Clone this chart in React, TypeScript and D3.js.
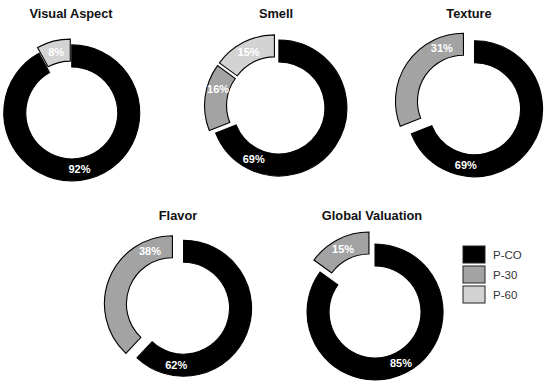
import * as d3 from "d3";

// attribute scores (% of panel preferring each sample)
const attributes = ["Visual Aspect", "Smell", "Texture", "Flavor", "Global Valuation"];
const samples = ["P-CO", "P-30", "P-60"];
const pCO = [92, 69, 69, 62, 85];
const p30 = [0, 16, 31, 38, 15];
const p60 = [8, 15, 0, 0, 0];

const colors = ["#000000", "#a3a3a3", "#d3d3d3"];

// layout of each donut: center, explosion and where along the slice the label sits
const centers: [number, number][] = [[71, 110], [276, 106], [469, 105], [178, 306], [372, 306]];
const explode = [3, 3.5, 6.7, 6, 6.7];
const labelAt = [[0.52, 0.5, 0.5], [0.83, 0.67, 0.5], [0.76, 0.8, 0.5], [0.84, 0.83, 0.5], [0.5, 0.5, 0.5]];

const outerR = 68;
const innerR = 46;

function Donut({ idx }: { idx: number }) {
  const values = [pCO[idx], p30[idx], p60[idx]];
  const [cx, cy] = centers[idx];
  const d = explode[idx];
  const pie = d3.pie<number>().sort(null).value(v => v)(values);
  const arc = d3.arc<d3.PieArcDatum<number>>().innerRadius(innerR).outerRadius(outerR);
  const top = idx < 3 ? 18 : 220;
  return (
    <g>
      <text x={cx} y={top} textAnchor="middle" fontWeight="bold" fontSize={12.8} fill="#111">
        {attributes[idx]}
      </text>
      <g transform={`translate(${cx},${cy})`}>
        {pie.map((s, i) => {
          if (s.value === 0) return null;
          const mid = (s.startAngle + s.endAngle) / 2;
          const ox = Math.sin(mid) * d;
          const oy = -Math.cos(mid) * d;
          return (
            <path key={i} d={arc(s) || ""} transform={`translate(${ox},${oy})`}
                  fill={colors[i]} stroke="#000" strokeWidth={1.1}/>
          );
        })}
        {pie.map((s, i) => {
          if (s.value === 0) return null;
          const a = s.startAngle + labelAt[idx][i] * (s.endAngle - s.startAngle);
          const mid = (s.startAngle + s.endAngle) / 2;
          const rr = (innerR + outerR) / 2;
          const x = Math.sin(a) * rr + Math.sin(mid) * d;
          const y = -Math.cos(a) * rr - Math.cos(mid) * d;
          return (
            <text key={"l" + i} x={x} y={y} dy="0.36em" textAnchor="middle"
                  fontSize={11} fontWeight="bold" fill="#fff">{s.value + "%"}</text>
          );
        })}
      </g>
    </g>
  );
}

export default function App() {
  const legendY = d3.scaleBand<string>().domain(samples).range([246, 303]).paddingInner(0.15);
  return (
    <svg width={550} height={387} style={{ position: "absolute", left: 0, top: 0, background: "#fff" }}
         fontFamily="'Liberation Sans', Arial, sans-serif">
      {attributes.map((_, i) => <Donut key={i} idx={i}/>)}
      <g>
        {samples.map((s, i) => (
          <g key={s}>
            <rect x={463} y={legendY(s)} width={22} height={legendY.bandwidth()}
                  fill={colors[i]} stroke="#222" strokeWidth={1}/>
            <text x={493} y={(legendY(s) || 0) + legendY.bandwidth() / 2} dy="0.36em"
                  fontSize={11.5} fill="#333">{s}</text>
          </g>
        ))}
      </g>
    </svg>
  );
}
